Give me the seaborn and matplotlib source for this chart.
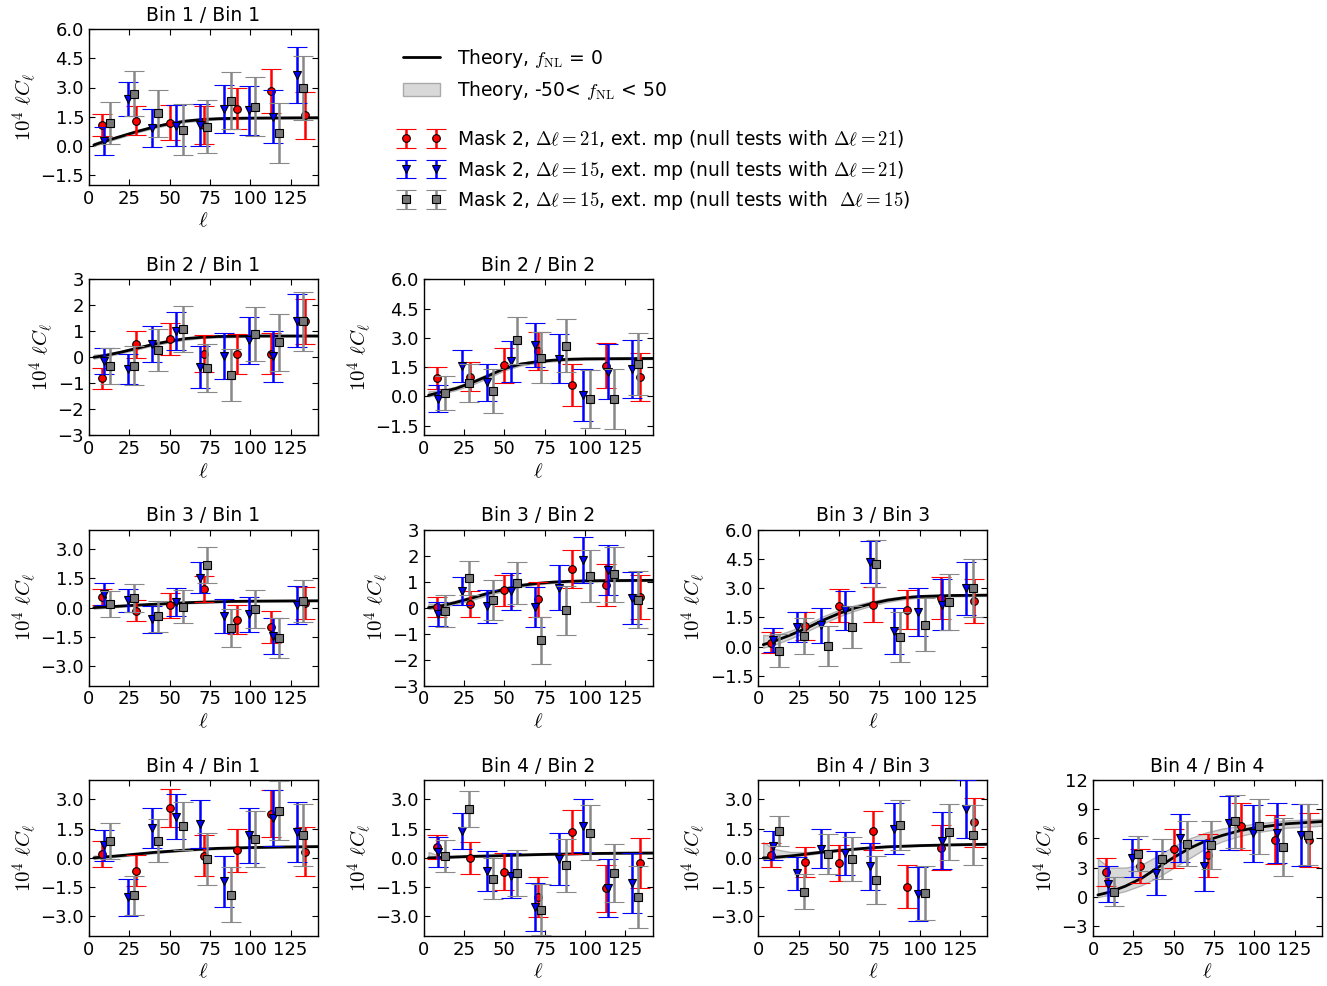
import matplotlib
matplotlib.use("Agg")
import matplotlib.pyplot as plt
import seaborn as sns
from matplotlib.lines import Line2D
from matplotlib.patches import Patch

# multipole centres of the three band-power sets
RED_L = [8, 29, 50, 71, 92, 113, 134]
BLUE_L = [9, 24, 39, 54, 69, 84, 99, 114, 129]
GRAY_L = [13, 28, 43, 58, 73, 88, 103, 118, 133]
L_TH = [3, 10, 20, 30, 40, 50, 60, 70, 80, 90, 100, 120, 142]

PANELS = ["11", "21", "22", "31", "32", "33", "41", "42", "43", "44"]

# theory, f_NL = 0
TH = {
    "11": [0.05, 0.25, 0.5, 0.75, 0.97, 1.15, 1.28, 1.36, 1.40, 1.42, 1.43, 1.44, 1.45],
    "21": [0.0, 0.07, 0.2, 0.35, 0.5, 0.62, 0.72, 0.77, 0.8, 0.81, 0.82, 0.82, 0.82],
    "22": [0.05, 0.2, 0.4, 0.7, 1.05, 1.42, 1.65, 1.77, 1.85, 1.9, 1.92, 1.93, 1.94],
    "31": [0.0, 0.03, 0.08, 0.13, 0.17, 0.21, 0.25, 0.28, 0.3, 0.32, 0.33, 0.34, 0.35],
    "32": [0.0, 0.05, 0.2, 0.37, 0.55, 0.7, 0.85, 0.93, 0.98, 1.01, 1.03, 1.04, 1.05],
    "33": [0.1, 0.28, 0.6, 0.95, 1.35, 1.7, 1.98, 2.2, 2.38, 2.5, 2.57, 2.62, 2.64],
    "41": [0.0, 0.05, 0.12, 0.2, 0.28, 0.34, 0.4, 0.45, 0.49, 0.51, 0.53, 0.56, 0.58],
    "42": [0.0, 0.02, 0.05, 0.08, 0.1, 0.12, 0.15, 0.17, 0.19, 0.2, 0.22, 0.24, 0.25],
    "43": [0.0, 0.03, 0.1, 0.2, 0.3, 0.38, 0.45, 0.52, 0.57, 0.6, 0.63, 0.67, 0.7],
    "44": [0.2, 0.48, 1.1, 1.9, 3.0, 4.05, 5.0, 5.75, 6.3, 6.75, 7.08, 7.5, 7.73],
}
# theory band, -50 < f_NL < 50
TH_LO = {
    "11": [0.0, 0.2, 0.45, 0.7, 0.92, 1.1, 1.23, 1.32, 1.36, 1.38, 1.4, 1.41, 1.42],
    "21": [-0.05, 0.03, 0.16, 0.31, 0.46, 0.58, 0.68, 0.74, 0.77, 0.78, 0.79, 0.8, 0.8],
    "22": [0.0, 0.12, 0.32, 0.6, 0.95, 1.33, 1.58, 1.71, 1.8, 1.85, 1.88, 1.9, 1.91],
    "31": [-0.05, -0.01, 0.05, 0.1, 0.14, 0.18, 0.22, 0.25, 0.28, 0.3, 0.31, 0.32, 0.33],
    "32": [-0.05, 0.0, 0.13, 0.3, 0.48, 0.64, 0.8, 0.89, 0.95, 0.98, 1.0, 1.02, 1.03],
    "33": [-0.05, 0.1, 0.42, 0.78, 1.18, 1.55, 1.85, 2.1, 2.3, 2.43, 2.52, 2.58, 2.6],
    "41": [-0.05, 0.0, 0.08, 0.16, 0.24, 0.31, 0.37, 0.42, 0.46, 0.49, 0.51, 0.54, 0.56],
    "42": [-0.05, -0.02, 0.02, 0.05, 0.08, 0.1, 0.13, 0.15, 0.17, 0.18, 0.2, 0.22, 0.23],
    "43": [-0.05, -0.02, 0.06, 0.16, 0.26, 0.35, 0.42, 0.49, 0.55, 0.58, 0.61, 0.65, 0.68],
    "44": [0.0, 0.2, 0.6, 1.2, 2.0, 3.0, 4.0, 5.0, 5.7, 6.2, 6.6, 7.1, 7.3],
}
TH_HI = {
    "11": [0.15, 0.32, 0.56, 0.8, 1.02, 1.2, 1.32, 1.4, 1.44, 1.46, 1.47, 1.48, 1.48],
    "21": [0.1, 0.13, 0.25, 0.4, 0.54, 0.66, 0.75, 0.8, 0.83, 0.84, 0.85, 0.85, 0.85],
    "22": [0.25, 0.3, 0.5, 0.8, 1.15, 1.5, 1.72, 1.83, 1.9, 1.94, 1.96, 1.97, 1.97],
    "31": [0.08, 0.07, 0.11, 0.16, 0.2, 0.24, 0.28, 0.31, 0.33, 0.34, 0.35, 0.36, 0.37],
    "32": [0.15, 0.13, 0.27, 0.44, 0.62, 0.77, 0.9, 0.97, 1.01, 1.04, 1.06, 1.07, 1.07],
    "33": [0.6, 0.55, 0.82, 1.15, 1.55, 1.88, 2.12, 2.32, 2.47, 2.57, 2.63, 2.67, 2.68],
    "41": [0.12, 0.1, 0.16, 0.24, 0.32, 0.38, 0.43, 0.48, 0.51, 0.53, 0.55, 0.58, 0.6],
    "42": [0.3, 0.1, 0.08, 0.11, 0.13, 0.15, 0.17, 0.19, 0.21, 0.22, 0.24, 0.26, 0.27],
    "43": [0.8, 0.45, 0.3, 0.3, 0.36, 0.42, 0.48, 0.55, 0.6, 0.63, 0.66, 0.69, 0.72],
    "44": [3.9, 3.0, 3.0, 3.3, 4.2, 5.2, 6.0, 6.6, 7.0, 7.25, 7.5, 7.85, 8.0],
}

# Mask 2, dl=21
RED_Y = {
    "11": [1.06, 1.30, 1.20, 1.07, 1.91, 2.84, 1.57],
    "21": [-0.81, 0.5, 0.69, 0.14, 0.14, 0.14, 1.38],
    "22": [0.92, 1.01, 1.59, 2.34, 0.58, 1.56, 0.99],
    "31": [0.55, -0.15, 0.12, 0.97, -0.62, -0.99, 0.23],
    "32": [0.03, 0.12, 0.67, 0.32, 1.5, 0.87, 0.42],
    "33": [0.21, 1.04, 2.09, 2.15, 1.9, 2.51, 2.34],
    "41": [0.19, -0.65, 2.56, 0.12, 0.38, 2.26, 0.32],
    "42": [0.55, 0.0, -0.7, -2.02, 1.33, -1.56, -0.26],
    "43": [0.15, -0.2, -0.26, 1.38, -1.47, 0.53, 1.83],
    "44": [2.56, 3.18, 4.96, 4.27, 7.25, 5.85, 5.85],
}
RED_E = {
    "11": [0.57, 0.74, 0.9, 0.97, 1.05, 1.13, 1.2],
    "21": [0.4, 0.53, 0.62, 0.7, 0.77, 0.8, 0.87],
    "22": [0.57, 0.73, 0.89, 0.98, 1.06, 1.15, 1.25],
    "31": [0.4, 0.53, 0.64, 0.66, 0.74, 0.8, 0.83],
    "32": [0.38, 0.5, 0.6, 0.68, 0.73, 0.8, 0.85],
    "33": [0.53, 0.71, 0.84, 0.9, 1.0, 1.07, 1.15],
    "41": [0.67, 0.8, 0.95, 1.04, 1.1, 1.2, 1.27],
    "42": [0.63, 0.8, 0.94, 1.03, 1.12, 1.2, 1.28],
    "43": [0.62, 0.78, 0.92, 1.0, 1.1, 1.17, 1.26],
    "44": [1.42, 1.76, 2.0, 2.22, 2.4, 2.5, 2.75],
}

# Mask 2, dl=15, null tests dl=21
BLUE_Y = {
    "11": [0.24, 2.41, 0.92, 1.04, 1.09, 1.9, 1.83, 1.49, 3.66],
    "21": [-0.15, -0.45, 0.51, 1.01, -0.36, 0.04, 0.65, 0.04, 1.41],
    "22": [-0.12, 1.56, 0.72, 1.79, 2.63, 1.93, 0.07, 1.26, 1.38],
    "31": [0.7, 0.38, -0.6, 0.29, 1.54, -0.44, -0.34, -1.45, 0.12],
    "32": [-0.25, 0.64, 0.05, 0.63, 0.03, 0.77, 1.82, 1.44, 0.37],
    "33": [0.32, 1.0, 1.09, 1.86, 4.34, 0.79, 1.78, 2.15, 2.99],
    "41": [0.65, -2.02, 1.52, 2.12, 1.74, -1.21, 1.15, 2.05, 1.35],
    "42": [0.32, 1.38, -0.67, -0.92, -2.53, -0.05, 1.66, -1.56, -1.3],
    "43": [0.63, -0.79, 0.46, 0.24, -0.43, 1.5, -1.85, 0.89, 2.51],
    "44": [1.37, 3.97, 2.46, 6.05, 3.21, 7.59, 6.53, 6.53, 6.36],
}
BLUE_E = {
    "11": [0.72, 0.85, 0.98, 1.06, 1.07, 1.23, 1.27, 1.36, 1.44],
    "21": [0.49, 0.58, 0.68, 0.74, 0.81, 0.88, 0.9, 0.98, 1.03],
    "22": [0.68, 0.82, 0.94, 1.07, 1.14, 1.25, 1.34, 1.4, 1.49],
    "31": [0.55, 0.58, 0.68, 0.73, 0.8, 0.86, 0.9, 0.94, 0.98],
    "32": [0.46, 0.55, 0.64, 0.72, 0.78, 0.85, 0.88, 0.95, 1.0],
    "33": [0.62, 0.75, 0.9, 1.0, 1.08, 1.17, 1.22, 1.3, 1.37],
    "41": [0.8, 0.94, 1.03, 1.16, 1.21, 1.31, 1.4, 1.45, 1.54],
    "42": [0.77, 0.9, 1.04, 1.15, 1.24, 1.33, 1.37, 1.49, 1.54],
    "43": [0.76, 0.86, 1.0, 1.1, 1.21, 1.29, 1.37, 1.45, 1.5],
    "44": [1.85, 1.97, 2.25, 2.45, 2.65, 2.8, 2.94, 3.08, 3.2],
}

# Mask 2, dl=15, null tests dl=15
GRAY_Y = {
    "11": [1.18, 2.68, 1.68, 0.84, 1.0, 2.32, 2.02, 0.67, 2.97],
    "21": [-0.33, -0.32, 0.29, 1.09, -0.42, -0.67, 0.9, 0.58, 1.38],
    "22": [0.15, 0.67, 0.26, 2.87, 1.98, 2.6, -0.14, -0.15, 1.66],
    "31": [0.19, 0.5, -0.44, 0.05, 2.17, -1.04, -0.09, -1.56, 0.34],
    "32": [-0.14, 1.14, 0.28, 0.95, -1.26, -0.1, 1.22, 1.28, 0.31],
    "33": [-0.2, 0.56, 0.03, 1.0, 4.26, 0.48, 1.13, 2.27, 2.99],
    "41": [0.85, -1.92, 0.89, 1.64, -0.05, -1.88, 0.97, 2.43, 1.18],
    "42": [0.1, 2.51, -1.06, -0.77, -2.65, -0.38, 1.3, -0.77, -2.02],
    "43": [1.4, -1.73, 0.19, -0.07, -1.13, 1.68, -1.81, 1.32, 1.18],
    "44": [0.55, 4.44, 3.9, 5.47, 5.33, 7.76, 7.25, 5.09, 6.36],
}
GRAY_E = {
    "11": [1.1, 1.15, 1.2, 1.3, 1.38, 1.45, 1.5, 1.55, 1.65],
    "21": [0.69, 0.74, 0.8, 0.87, 0.93, 1.0, 1.04, 1.1, 1.14],
    "22": [0.87, 0.98, 1.12, 1.22, 1.3, 1.35, 1.47, 1.55, 1.6],
    "31": [0.67, 0.71, 0.8, 0.85, 0.92, 0.98, 0.98, 1.05, 1.1],
    "32": [0.62, 0.67, 0.77, 0.82, 0.9, 0.95, 1.0, 1.06, 1.1],
    "33": [0.83, 0.92, 1.02, 1.08, 1.2, 1.28, 1.38, 1.43, 1.48],
    "41": [0.92, 1.0, 1.1, 1.23, 1.33, 1.39, 1.45, 1.52, 1.6],
    "42": [0.83, 0.93, 1.07, 1.18, 1.31, 1.35, 1.43, 1.5, 1.58],
    "43": [0.77, 0.9, 1.04, 1.12, 1.21, 1.3, 1.38, 1.45, 1.52],
    "44": [1.53, 1.83, 2.05, 2.32, 2.46, 2.73, 2.8, 2.97, 3.13],
}

# y axis per panel: (limits, ticks, format)
YAX = {
    "11": ((-2, 6), [-1.5, 0, 1.5, 3, 4.5, 6], "%.1f"),
    "21": ((-3, 3), [-3, -2, -1, 0, 1, 2, 3], "%d"),
    "22": ((-2, 6), [-1.5, 0, 1.5, 3, 4.5, 6], "%.1f"),
    "31": ((-4, 4), [-3, -1.5, 0, 1.5, 3], "%.1f"),
    "32": ((-3, 3), [-3, -2, -1, 0, 1, 2, 3], "%d"),
    "33": ((-2, 6), [-1.5, 0, 1.5, 3, 4.5, 6], "%.1f"),
    "41": ((-4, 4), [-3, -1.5, 0, 1.5, 3], "%.1f"),
    "42": ((-4, 4), [-3, -1.5, 0, 1.5, 3], "%.1f"),
    "43": ((-4, 4), [-3, -1.5, 0, 1.5, 3], "%.1f"),
    "44": ((-4, 12), [-3, 0, 3, 6, 9, 12], "%d"),
}

sns.set_style("ticks", {"xtick.direction": "in", "ytick.direction": "in",
                        "xtick.top": True, "ytick.right": True,
                        "axes.edgecolor": "k", "text.color": "k",
                        "axes.labelcolor": "k", "xtick.color": "k", "ytick.color": "k"})
plt.rcParams["font.family"] = ["DejaVu Sans"]
plt.rcParams["mathtext.fontset"] = "cm"
plt.rcParams["font.size"] = 13
plt.rcParams["axes.linewidth"] = 1.0

W, H = 1327, 986
fig = plt.figure(figsize=(W / 100, H / 100), dpi=100)

lab_red = r"Mask 2, $\Delta\ell=21$, ext. mp (null tests with $\Delta\ell=21$)"
lab_blue = r"Mask 2, $\Delta\ell=15$, ext. mp (null tests with $\Delta\ell=21$)"
lab_gray = r"Mask 2, $\Delta\ell=15$, ext. mp (null tests with  $\Delta\ell=15$)"

ebkw = dict(capsize=7, capthick=1.8, elinewidth=1.8, linestyle="none", mec="k", mew=0.8)
handles = None
for key in PANELS:
    r, c = int(key[0]) - 1, int(key[1]) - 1
    left = (89 + 334.7 * c) / W
    top = 29 + 250.3 * r
    ax = fig.add_axes([left, 1 - (top + 156) / H, 229 / W, 156 / H])

    ax.fill_between(L_TH, TH_LO[key], TH_HI[key], facecolor="#d5d5d5",
                    edgecolor="#aaaaaa", lw=1, alpha=0.9, zorder=1)
    sns.lineplot(x=L_TH, y=TH[key], ax=ax, color="k", lw=2, zorder=2)

    hr = ax.errorbar(RED_L, RED_Y[key], yerr=RED_E[key], fmt="o", color="red",
                     ecolor="red", mfc="red", ms=5.5, zorder=3, **ebkw)
    hb = ax.errorbar(BLUE_L, BLUE_Y[key], yerr=BLUE_E[key], fmt="v", color="blue",
                     ecolor="blue", mfc="blue", ms=6, zorder=4, **ebkw)
    hg = ax.errorbar(GRAY_L, GRAY_Y[key], yerr=GRAY_E[key], fmt="s", color="#888888",
                     ecolor="#888888", mfc="#777777", ms=5.5, zorder=5, **ebkw)
    if handles is None:
        handles = (hr, hb, hg)

    ylim, yt, fmt = YAX[key]
    ax.set_xlim(0, 142)
    ax.set_ylim(*ylim)
    ax.set_xticks([0, 25, 50, 75, 100, 125])
    ax.set_yticks(yt)
    ax.set_yticklabels([(fmt % v).replace("-", "\u2212") for v in yt])
    ax.tick_params(labelsize=13, length=4, width=0.8, colors="k")
    ax.set_title(f"Bin {key[0]} / Bin {key[1]}", fontsize=13.5, color="k")
    ax.set_xlabel(r"$\ell$", fontsize=15, labelpad=2)
    ax.set_ylabel(r"$10^4\ \ell C_\ell$", fontsize=15, labelpad=1)

fig.legend(
    [Line2D([], [], color="k", lw=2),
     Patch(facecolor="#d9d9d9", edgecolor="#aaaaaa")],
    [r"Theory, $f_{\rm NL}$ = 0", r"Theory, -50< $f_{\rm NL}$ < 50"],
    loc="upper left", bbox_to_anchor=(403 / W, 1 - 47 / H), frameon=False,
    fontsize=13.5, handlelength=1.95, handletextpad=0.95, borderpad=0,
    borderaxespad=0, labelspacing=0.5)
fig.legend(list(handles), [lab_red, lab_blue, lab_gray], loc="upper left",
           bbox_to_anchor=(400 / W, 1 - 128 / H), frameon=False, fontsize=13.5,
           numpoints=2, handlelength=2.2, handletextpad=0.85, borderpad=0,
           borderaxespad=0, labelspacing=0.4)

fig.savefig("out.png", dpi=100)
